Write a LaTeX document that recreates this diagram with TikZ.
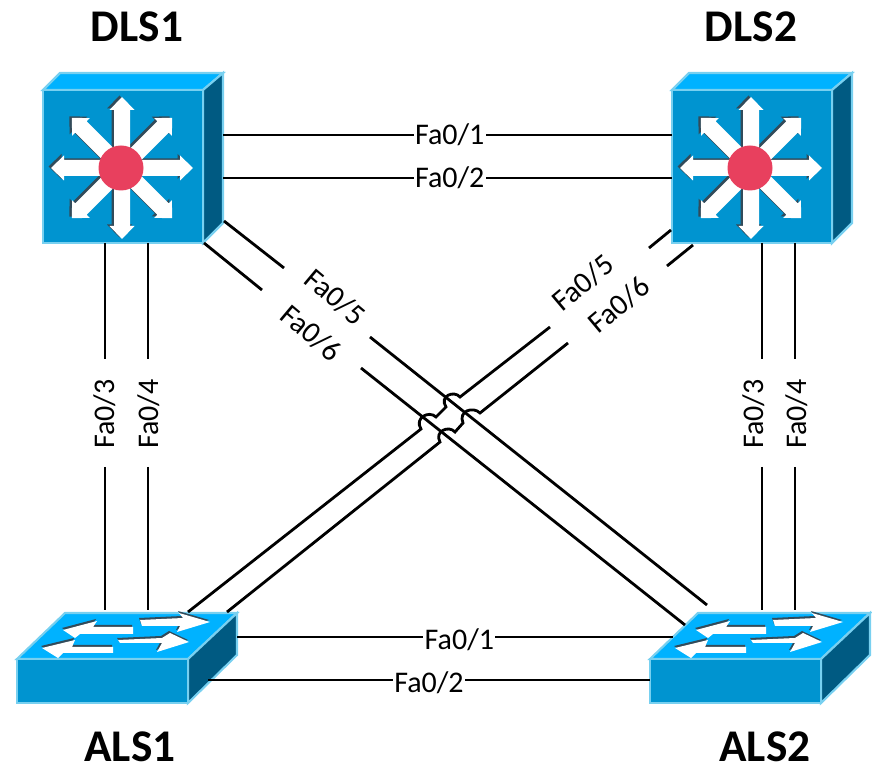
\documentclass[tikz,border=0pt]{standalone}
\usepackage{fontspec}
\setmainfont{Carlito}
\definecolor{skytop}{RGB}{0,178,255}
\definecolor{skyedge}{RGB}{120,208,240}
\definecolor{facemid}{RGB}{0,148,208}
\definecolor{sidedark}{RGB}{0,90,130}
\definecolor{routerred}{RGB}{232,64,94}
\definecolor{sombra}{RGB}{50,75,90}
\tikzset{
    link/.style={line width=2.1pt,black},
    portlabel/.style={inner sep=1pt,font=\fontsize{22.5}{22.5}\selectfont},
    gaplabel/.style={portlabel,fill=white},
    devicename/.style={inner sep=0pt,font=\fontsize{34}{34}\selectfont\bfseries},
    pics/multilayer/.style={code={
        % topo e lateral
        \fill[draw=skyedge,line width=1.6pt,fill=skytop] (0,0) -- (17,-17) -- (180,-17) -- (160,0) -- cycle;
        \fill[draw=skyedge,line width=1.6pt,fill=sidedark] (160,0) -- (180,-17) -- (180,133) -- (160,153) -- cycle;
        % face
        \fill[draw=skyedge,line width=1.6pt,fill=facemid] (0,0) rectangle (160,153);
        % setas
        \foreach \dx/\dy/\cor in {-2.5/-1.5/sombra,0/0/white} {
            \foreach \a in {0,45,...,315} {
                \begin{scope}[shift={(79+\dx,78+\dy)},rotate=\a]
                    \fill[\cor] (0,-8) -- (58,-8) -- (58,-12.5) -- (71,0) -- (58,12.5) -- (58,8) -- (0,8) -- cycle;
                \end{scope}
            }
        }
        % centro
        \fill[routerred] (78,78) circle (22.5);
    }},
    pics/accesslayer/.style={code={
        % topo e lateral
        \fill[draw=skyedge,line width=1.6pt,fill=skytop] (0,0) -- (48,-46) -- (220,-46) -- (171,0) -- cycle;
        \fill[draw=skyedge,line width=1.6pt,fill=sidedark] (171,0) -- (220,-46) -- (220,-4) -- (171,44) -- cycle;
        % face
        \fill[draw=skyedge,line width=1.6pt,fill=facemid] (0,0) rectangle (171,44);
        % setas
        \foreach \dx/\dy/\cor in {-1/-2/sombra,0/0/white} {
            \begin{scope}[shift={(\dx,\dy)}]
                \fill[\cor] (46,-29) -- (80,-38) -- (76,-32) -- (116,-32) -- (116,-25) -- (63,-25) -- (58,-21) -- cycle;
                \fill[\cor] (123,-39) -- (166,-41) -- (162,-46) -- (193,-37) -- (160,-27) -- (163,-33) -- (125,-33) -- cycle;
                \fill[\cor] (25,-11) -- (58,-19) -- (55,-12) -- (96,-12) -- (96,-6) -- (46,-6) -- (41,-1) -- cycle;
                \fill[\cor] (101,-19) -- (145,-21) -- (153,-26) -- (172,-17) -- (140,-7) -- (145,-16) -- (103,-16) -- cycle;
            \end{scope}
        }
    }},
}
\begin{document}
\begin{tikzpicture}[x=0.75pt,y=-0.75pt]
    \useasboundingbox (0,0) rectangle (872,766);

    % equipamentos
    \pic at (43,90) {multilayer};
    \pic at (672,90) {multilayer};
    \pic at (17,659) {accesslayer};
    \pic at (650,659) {accesslayer};

    % nomes
    \node[devicename] (dlsOne) at (137,27) {DLS1};
    \node[devicename] (dlsTwo) at (751,27) {DLS2};
    \node[devicename] (alsOne) at (130,747) {ALS1};
    \node[devicename] (alsTwo) at (765,747) {ALS2};

    % pontas das ligações
    \coordinate (a1) at (223,135);  \coordinate (b1) at (672,135);
    \coordinate (a2) at (223,178);  \coordinate (b2) at (672,178);
    \coordinate (c1) at (237,637);  \coordinate (d1) at (673,637);
    \coordinate (c2) at (208,680);  \coordinate (d2) at (650,680);
    \coordinate (a3) at (105,243);  \coordinate (c3) at (105,610);
    \coordinate (a4) at (148,243);  \coordinate (c4) at (148,610);
    \coordinate (b3) at (762,243);  \coordinate (d3) at (762,610);
    \coordinate (b4) at (795,243);  \coordinate (d4) at (795,610);
    \coordinate (a5) at (224,221);  \coordinate (d5) at (707,605);
    \coordinate (a6) at (204,243);  \coordinate (d6) at (685,625);
    \coordinate (b5) at (671,230);  \coordinate (c5) at (188,612);
    \coordinate (b6) at (693,245);  \coordinate (c6) at (227,612);

    % ligações horizontais
    \draw[link] (a1) -- node[gaplabel,pos=0.505] (lblA) {Fa0/1} (b1);
    \draw[link] (a2) -- node[gaplabel,pos=0.505] (lblB) {Fa0/2} (b2);
    \draw[link] (c1) -- node[gaplabel,pos=0.51,yshift=-2] (lblC) {Fa0/1} (d1);
    \draw[link] (c2) -- node[gaplabel,pos=0.50,yshift=-2] (lblD) {Fa0/2} (d2);

    % ligações verticais
    \draw[link] (a3) -- (105,359) (105,467) -- (c3);
    \draw[link] (a4) -- (148,359) (148,467) -- (c4);
    \draw[link] (b3) -- (762,359) (762,467) -- (d3);
    \draw[link] (b4) -- (795,359) (795,467) -- (d4);
    \node[portlabel,rotate=90] (lblE) at (105,414) {Fa0/3};
    \node[portlabel,rotate=90] (lblF) at (149,414) {Fa0/4};
    \node[portlabel,rotate=90] (lblG) at (754,414) {Fa0/3};
    \node[portlabel,rotate=90] (lblH) at (797,414) {Fa0/4};

    % diagonais de DLS1
    \draw[link] (a5) -- (284,268) (370,337) -- (d5);
    \draw[link] (a6) -- (262,290) (361,368) -- (d6);
    \node[portlabel,rotate=-40] (lblI) at (335,297) {Fa0/5};
    \node[portlabel,rotate=-40] (lblJ) at (311,333) {Fa0/6};

    % diagonais de DLS2, com os saltos
    \draw[link] (b5) -- (649,248) (550,327) -- (460,397) .. controls (454,390) and (439,396) .. (446,407)
        -- (436,417) .. controls (429,410) and (414,418) .. (421,429) -- (c5);
    \draw[link] (b6) -- (667,266) (568,343) -- (480,413) .. controls (473,406) and (458,411) .. (463,423)
        -- (455,432) .. controls (449,425) and (434,431) .. (440,442) -- (c6);
    \node[portlabel,rotate=40] (lblK) at (583,283) {Fa0/5};
    \node[portlabel,rotate=40] (lblL) at (619,305) {Fa0/6};
\end{tikzpicture}
\end{document}
